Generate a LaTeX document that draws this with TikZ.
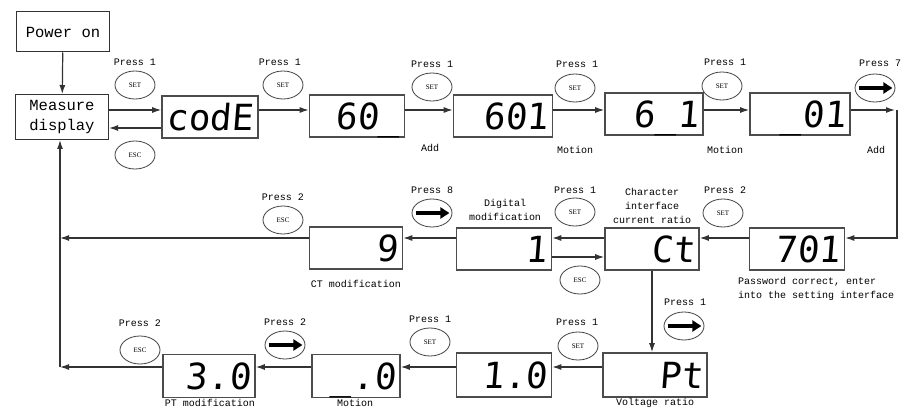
\documentclass[tikz,border=0pt]{standalone}
\usepackage{fontspec}
\setmonofont{Liberation Mono}
\newfontfamily\segfont[FakeSlant=0.08]{DejaVu Sans Mono}
\newfontfamily\keyfont{Liberation Serif}
\usetikzlibrary{arrows.meta,shapes.geometric}

\tikzset{
  box/.style={draw=black!80,line width=1pt,minimum width=93pt,minimum height=42pt,
    inner sep=1pt,align=center,font=\ttfamily\fontsize{15.5}{20}\selectfont},
  lcd/.style={draw=black!70,line width=1.6pt,minimum height=42pt,inner xsep=4pt,inner ysep=0pt,
    text width=#1,align=right,text height=27pt,text depth=0pt,
    font=\segfont\fontsize{36}{36}\selectfont},
  lcd/.default=87pt,
  key/.style={ellipse,draw=black!75,line width=0.8pt,minimum width=40pt,minimum height=28pt,
    inner sep=0pt,font=\keyfont\fontsize{7}{7}\selectfont},
  lbl/.style={inner sep=0pt,align=center,font=\ttfamily\fontsize{10}{14}\selectfont},
  conn/.style={draw=black!80,line width=1.2pt,-{Latex[length=9pt,width=6pt]}},
  go/.style={line width=3.2pt,-{Triangle[length=9pt,width=11pt]}}
}

\begin{document}
\begin{tikzpicture}[x=1pt,y=-1pt]
\useasboundingbox (0,0) rectangle (902,409);
% rows and the return line on the left
\coordinate (r1) at (0,110);
\coordinate (r1b) at (0,128);
\coordinate (r2) at (0,238);
\coordinate (r2b) at (0,257);
\coordinate (r3) at (0,367);
\coordinate (spine) at (60,0);
\coordinate (turn) at (897,110);

% start
\node[box,minimum height=40pt] (pwr) at (63,32) {Power on};
\node[box,minimum height=45pt] (meas) at (62,117) {Measure\\display};

% top row: password entry
\node[lcd=88pt,align=center] (code) at (210,117) {codE};
\node[lcd] (d60) at (357,116) {60\_};
\node[lcd=91pt] (d601) at (503,116) {601};
\node[lcd=90pt] (d61) at (654,114) {6\_1};
\node[lcd=92pt] (d01) at (800,114) {\_01};

% middle row: current ratio
\node[lcd] (d701) at (797,249) {701};
\node[lcd=86pt] (ct) at (652,249) {Ct};
\node[lcd] (dig) at (504,249) {1};
\node[lcd=85pt] (d9) at (356,248) {9};

% bottom row: voltage ratio
\node[lcd=96pt,minimum height=44pt] (pt) at (655,375) {Pt};
\node[lcd,minimum height=44pt] (d10) at (504,375) {1.0};
\node[lcd=80pt,minimum height=43pt] (d0) at (356,376) {\_.0};
\node[lcd=84pt,minimum height=43pt] (d30) at (209,376) {3.0};

% keys
\node[key] (k1) at (135,85) {SET};
\node[key] (k2) at (135,155) {ESC};
\node[key] (k3) at (283,85) {SET};
\node[key] (k4) at (432,87) {SET};
\node[key] (k5) at (575,88) {SET};
\node[key] (k6) at (722,86) {SET};
\node[key] (k7) at (875,88) {};
\node[key] (k8) at (723,213) {SET};
\node[key] (k9) at (575,212) {SET};
\node[key] (k10) at (580,280) {ESC};
\node[key] (k11) at (432,213) {};
\node[key] (k12) at (283,220) {ESC};
\node[key] (k13) at (684,326) {};
\node[key] (k14) at (578,346) {SET};
\node[key] (k15) at (430,342) {SET};
\node[key] (k16) at (285,345) {};
\node[key] (k17) at (140,350) {ESC};
\draw[go] ([xshift=4pt]k7.west) -- ([xshift=-3pt]k7.east);
\draw[go] ([xshift=4pt]k11.west) -- ([xshift=-3pt]k11.east);
\draw[go] ([xshift=4pt]k13.west) -- ([xshift=-3pt]k13.east);
\draw[go] ([xshift=4pt]k16.west) -- ([xshift=-3pt]k16.east);

% press counts
\node[lbl] (p1) at (135,62) {Press 1};
\node[lbl] (p3) at (280,62) {Press 1};
\node[lbl] (p4) at (432,64) {Press 1};
\node[lbl] (p5) at (577,64) {Press 1};
\node[lbl] (p6) at (725,62) {Press 1};
\node[lbl] (p7) at (880,63) {Press 7};
\node[lbl] (p8) at (725,190) {Press 2};
\node[lbl] (p9) at (575,190) {Press 1};
\node[lbl] (p11) at (432,190) {Press 8};
\node[lbl] (p12) at (283,197) {Press 2};
\node[lbl] (p13) at (685,302) {Press 1};
\node[lbl] (p14) at (577,322) {Press 1};
\node[lbl] (p15) at (430,319) {Press 1};
\node[lbl] (p16) at (285,322) {Press 2};
\node[lbl] (p17) at (140,323) {Press 2};

% captions
\node[lbl] (c4) at (430,148) {Add};
\node[lbl] (c5) at (575,150) {Motion};
\node[lbl] (c6) at (725,150) {Motion};
\node[lbl] (c7) at (876,150) {Add};
\node[lbl] (cdig) at (505,210) {Digital\\modification};
\node[lbl] (cct) at (652,206) {Character\\interface\\current ratio};
\node[lbl] (c9) at (356,284) {CT modification};
\node[lbl,anchor=west,align=left] (c701) at (738,289) {Password correct, enter\\into the setting interface};
\node[lbl] (cpt) at (655,403) {Voltage ratio};
\node[lbl] (c0) at (355,403) {Motion};
\node[lbl] (c30) at (210,403) {PT modification};

% connectors
\draw[conn] (pwr) -- (meas);
\draw[conn] (meas.east |- r1) -- (code.west |- r1);
\draw[conn] (code.west |- r1b) -- (meas.east |- r1b);
\draw[conn] (code.east |- r1) -- (d60.west |- r1);
\draw[conn] (d60.east |- r1) -- (d601.west |- r1);
\draw[conn] (d601.east |- r1) -- (d61.west |- r1);
\draw[conn] (d61.east |- r1) -- (d01.west |- r1);
\draw[conn] (d01.east |- r1) -- ([xshift=-2pt]turn);
\draw[conn] (turn) -- (turn |- r2) -- (d701.east |- r2);
\draw[conn] (d701.west |- r2) -- (ct.east |- r2);
\draw[conn] (ct.west |- r2) -- (dig.east |- r2);
\draw[conn] (dig.east |- r2b) -- (ct.west |- r2b);
\draw[conn] (dig.west |- r2) -- (d9.east |- r2);
\draw[conn] (d9.west |- r2) -- (spine |- r2);
\draw[conn] (ct.south) -- (ct.south |- pt.north);
\draw[conn] (pt.west |- r3) -- (d10.east |- r3);
\draw[conn] (d10.west |- r3) -- (d0.east |- r3);
\draw[conn] (d0.west |- r3) -- (d30.east |- r3);
\draw[conn] (d30.west |- r3) -- (spine |- r3);
\draw[conn] (spine |- r3) -- (spine |- meas.south);
\end{tikzpicture}
\end{document}
